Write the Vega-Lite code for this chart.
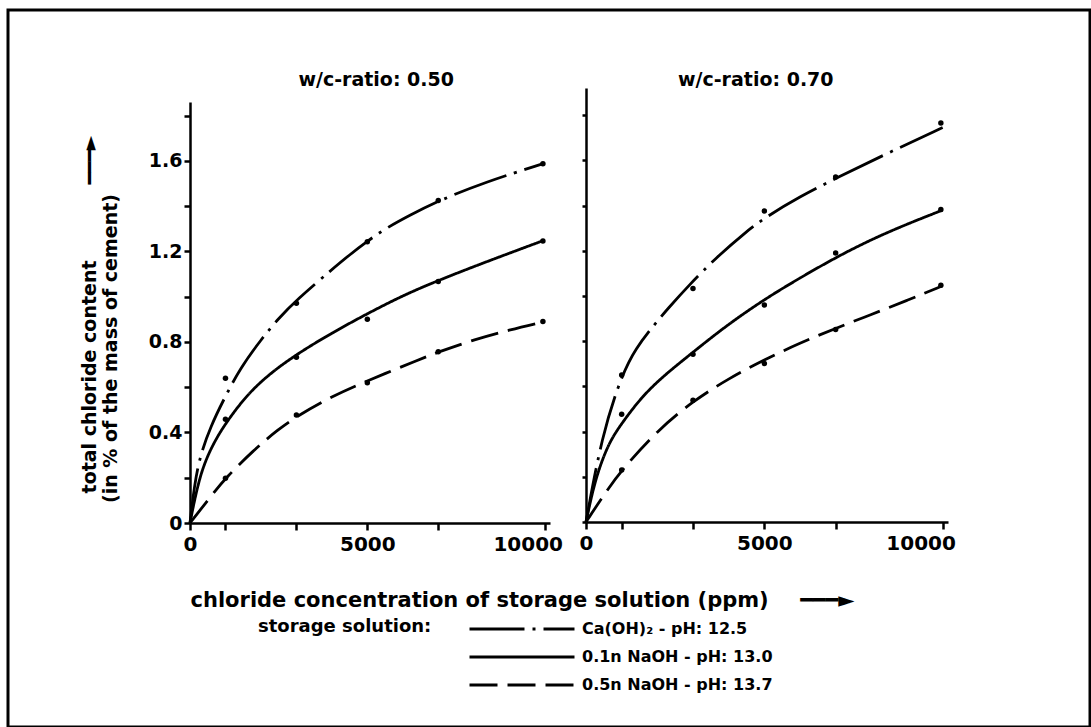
{
  "$schema": "https://vega.github.io/schema/vega-lite/v6.json",
  "width": 1091,
  "height": 727,
  "autosize": {"type": "fit", "contains": "padding"},
  "padding": {"left": 8, "top": 10, "right": 1, "bottom": 0},
  "background": "white",
  "config": {
    "view": {"stroke": "black", "strokeWidth": 3},
    "font": "DejaVu Sans",
    "axis": {
      "domainColor": "black", "domainWidth": 2.5, "ticks": true, "tickColor": "black", "tickWidth": 2.5,
      "labelColor": "black", "labelFont": "DejaVu Sans", "labelFontWeight": "bold", "labelFontSize": 19,
      "titleFont": "DejaVu Sans", "titleFontWeight": "bold", "titleFontSize": 19, "titleColor": "black",
      "grid": false, "labelFlush": false, "labelOverlap": false, "labelBound": false
    },
    "legend": {
      "orient": "none", "legendX": 250, "legendY": 608, "direction": "vertical",
      "titleOrient": "left", "titleFont": "DejaVu Sans", "titleFontWeight": "bold", "titleFontSize": 18,
      "titleColor": "black", "titlePadding": 36, "titleAnchor": "start", "titleBaseline": "top",
      "labelFont": "DejaVu Sans", "labelFontWeight": "bold", "labelFontSize": 16, "labelColor": "black", "labelLimit": 400,
      "symbolType": "stroke", "symbolSize": 11025, "symbolStrokeWidth": 3, "symbolStrokeColor": "black",
      "labelOffset": 6, "clipHeight": 22, "rowPadding": 6, "padding": 0
    }
  },
  "datasets": {
    "curves": [
      {"p": "0.50", "s": "ca", "x": 0, "y": 0},
      {"p": "0.50", "s": "ca", "x": 190, "y": 0.26},
      {"p": "0.50", "s": "ca", "x": 600, "y": 0.435},
      {"p": "0.50", "s": "ca", "x": 1000, "y": 0.56},
      {"p": "0.50", "s": "ca", "x": 1400, "y": 0.68},
      {"p": "0.50", "s": "ca", "x": 2000, "y": 0.81},
      {"p": "0.50", "s": "ca", "x": 2500, "y": 0.905},
      {"p": "0.50", "s": "ca", "x": 3000, "y": 0.985},
      {"p": "0.50", "s": "ca", "x": 4000, "y": 1.12},
      {"p": "0.50", "s": "ca", "x": 4500, "y": 1.185},
      {"p": "0.50", "s": "ca", "x": 5000, "y": 1.245},
      {"p": "0.50", "s": "ca", "x": 5500, "y": 1.3},
      {"p": "0.50", "s": "ca", "x": 6200, "y": 1.36},
      {"p": "0.50", "s": "ca", "x": 7000, "y": 1.423},
      {"p": "0.50", "s": "ca", "x": 8300, "y": 1.505},
      {"p": "0.50", "s": "ca", "x": 10000, "y": 1.59},
      {"p": "0.50", "s": "n1", "x": 0, "y": 0},
      {"p": "0.50", "s": "n1", "x": 280, "y": 0.22},
      {"p": "0.50", "s": "n1", "x": 650, "y": 0.35},
      {"p": "0.50", "s": "n1", "x": 1000, "y": 0.44},
      {"p": "0.50", "s": "n1", "x": 1600, "y": 0.566},
      {"p": "0.50", "s": "n1", "x": 2250, "y": 0.66},
      {"p": "0.50", "s": "n1", "x": 3000, "y": 0.745},
      {"p": "0.50", "s": "n1", "x": 4000, "y": 0.84},
      {"p": "0.50", "s": "n1", "x": 5000, "y": 0.925},
      {"p": "0.50", "s": "n1", "x": 6000, "y": 1.005},
      {"p": "0.50", "s": "n1", "x": 7000, "y": 1.072},
      {"p": "0.50", "s": "n1", "x": 8400, "y": 1.157},
      {"p": "0.50", "s": "n1", "x": 10000, "y": 1.25},
      {"p": "0.50", "s": "n5", "x": 0, "y": 0},
      {"p": "0.50", "s": "n5", "x": 650, "y": 0.13},
      {"p": "0.50", "s": "n5", "x": 1000, "y": 0.198},
      {"p": "0.50", "s": "n5", "x": 1800, "y": 0.323},
      {"p": "0.50", "s": "n5", "x": 2500, "y": 0.415},
      {"p": "0.50", "s": "n5", "x": 3000, "y": 0.47},
      {"p": "0.50", "s": "n5", "x": 4000, "y": 0.56},
      {"p": "0.50", "s": "n5", "x": 5000, "y": 0.628},
      {"p": "0.50", "s": "n5", "x": 6500, "y": 0.725},
      {"p": "0.50", "s": "n5", "x": 7000, "y": 0.755},
      {"p": "0.50", "s": "n5", "x": 8000, "y": 0.81},
      {"p": "0.50", "s": "n5", "x": 9000, "y": 0.853},
      {"p": "0.50", "s": "n5", "x": 10000, "y": 0.89},
      {"p": "0.70", "s": "ca", "x": 0, "y": 0},
      {"p": "0.70", "s": "ca", "x": 440, "y": 0.38},
      {"p": "0.70", "s": "ca", "x": 1000, "y": 0.65},
      {"p": "0.70", "s": "ca", "x": 1400, "y": 0.77},
      {"p": "0.70", "s": "ca", "x": 1900, "y": 0.87},
      {"p": "0.70", "s": "ca", "x": 2300, "y": 0.945},
      {"p": "0.70", "s": "ca", "x": 2900, "y": 1.05},
      {"p": "0.70", "s": "ca", "x": 3650, "y": 1.17},
      {"p": "0.70", "s": "ca", "x": 4500, "y": 1.285},
      {"p": "0.70", "s": "ca", "x": 5000, "y": 1.345},
      {"p": "0.70", "s": "ca", "x": 6000, "y": 1.44},
      {"p": "0.70", "s": "ca", "x": 7000, "y": 1.52},
      {"p": "0.70", "s": "ca", "x": 8500, "y": 1.635},
      {"p": "0.70", "s": "ca", "x": 10000, "y": 1.745},
      {"p": "0.70", "s": "n1", "x": 0, "y": 0},
      {"p": "0.70", "s": "n1", "x": 250, "y": 0.186},
      {"p": "0.70", "s": "n1", "x": 625, "y": 0.348},
      {"p": "0.70", "s": "n1", "x": 1000, "y": 0.436},
      {"p": "0.70", "s": "n1", "x": 1560, "y": 0.554},
      {"p": "0.70", "s": "n1", "x": 2200, "y": 0.65},
      {"p": "0.70", "s": "n1", "x": 2930, "y": 0.742},
      {"p": "0.70", "s": "n1", "x": 3900, "y": 0.865},
      {"p": "0.70", "s": "n1", "x": 5000, "y": 0.985},
      {"p": "0.70", "s": "n1", "x": 6000, "y": 1.08},
      {"p": "0.70", "s": "n1", "x": 7000, "y": 1.17},
      {"p": "0.70", "s": "n1", "x": 8000, "y": 1.25},
      {"p": "0.70", "s": "n1", "x": 9000, "y": 1.318},
      {"p": "0.70", "s": "n1", "x": 10000, "y": 1.38},
      {"p": "0.70", "s": "n5", "x": 0, "y": 0},
      {"p": "0.70", "s": "n5", "x": 530, "y": 0.127},
      {"p": "0.70", "s": "n5", "x": 1000, "y": 0.23},
      {"p": "0.70", "s": "n5", "x": 2000, "y": 0.405},
      {"p": "0.70", "s": "n5", "x": 3000, "y": 0.535},
      {"p": "0.70", "s": "n5", "x": 4000, "y": 0.635},
      {"p": "0.70", "s": "n5", "x": 5000, "y": 0.718},
      {"p": "0.70", "s": "n5", "x": 6000, "y": 0.792},
      {"p": "0.70", "s": "n5", "x": 7000, "y": 0.857},
      {"p": "0.70", "s": "n5", "x": 8000, "y": 0.918},
      {"p": "0.70", "s": "n5", "x": 9000, "y": 0.98},
      {"p": "0.70", "s": "n5", "x": 10000, "y": 1.045}
    ],
    "points": [
      {"p": "0.50", "s": "ca", "x": 1000, "y": 0.64},
      {"p": "0.50", "s": "ca", "x": 3000, "y": 0.971},
      {"p": "0.50", "s": "ca", "x": 5000, "y": 1.243},
      {"p": "0.50", "s": "ca", "x": 7000, "y": 1.425},
      {"p": "0.50", "s": "ca", "x": 9950, "y": 1.587},
      {"p": "0.50", "s": "n1", "x": 1000, "y": 0.458},
      {"p": "0.50", "s": "n1", "x": 3000, "y": 0.732},
      {"p": "0.50", "s": "n1", "x": 5000, "y": 0.9},
      {"p": "0.50", "s": "n1", "x": 7000, "y": 1.067},
      {"p": "0.50", "s": "n1", "x": 9950, "y": 1.246},
      {"p": "0.50", "s": "n5", "x": 1000, "y": 0.198},
      {"p": "0.50", "s": "n5", "x": 3000, "y": 0.477},
      {"p": "0.50", "s": "n5", "x": 5000, "y": 0.62},
      {"p": "0.50", "s": "n5", "x": 7000, "y": 0.757},
      {"p": "0.50", "s": "n5", "x": 9950, "y": 0.89},
      {"p": "0.70", "s": "ca", "x": 1000, "y": 0.65},
      {"p": "0.70", "s": "ca", "x": 3000, "y": 1.033},
      {"p": "0.70", "s": "ca", "x": 5000, "y": 1.376},
      {"p": "0.70", "s": "ca", "x": 7000, "y": 1.526},
      {"p": "0.70", "s": "ca", "x": 9950, "y": 1.765},
      {"p": "0.70", "s": "n1", "x": 1000, "y": 0.477},
      {"p": "0.70", "s": "n1", "x": 3000, "y": 0.742},
      {"p": "0.70", "s": "n1", "x": 5000, "y": 0.96},
      {"p": "0.70", "s": "n1", "x": 7000, "y": 1.19},
      {"p": "0.70", "s": "n1", "x": 9950, "y": 1.382},
      {"p": "0.70", "s": "n5", "x": 1000, "y": 0.23},
      {"p": "0.70", "s": "n5", "x": 3000, "y": 0.539},
      {"p": "0.70", "s": "n5", "x": 5000, "y": 0.701},
      {"p": "0.70", "s": "n5", "x": 7000, "y": 0.852},
      {"p": "0.70", "s": "n5", "x": 9950, "y": 1.047}
    ]
  },
  "layer": [
    {
      "data": {"name": "curves"},
      "transform": [{"filter": "datum.p == '0.50'"}],
      "mark": {"type": "line", "interpolate": "basis", "strokeWidth": 2.8, "color": "black"},
      "encoding": {
        "x": {
          "field": "x", "type": "quantitative",
          "scale": {"domain": [0, 10150], "range": [182, 542], "nice": false, "zero": false},
          "axis": {
            "orient": "bottom", "offset": -204, "values": [0, 1000, 3000, 5000, 7000, 10000], "format": "d",
            "labelExpr": "datum.value % 5000 == 0 ? datum.label : ''",
            "labelOffset": {"condition": {"test": "datum.value == 10000", "value": -17}, "value": 0},
            "tickSize": 7, "labelPadding": 4, "labelFontSize": 20,
            "title": "chloride concentration of storage solution (ppm)\u2003\u2002━━━►",
            "titleX": 182, "titleY": 77, "titleAlign": "left", "titleBaseline": "middle", "titleFontSize": 21
          }
        },
        "y": {
          "field": "y", "type": "quantitative",
          "scale": {"domain": [0, 1.86], "range": [513, 92], "nice": false, "zero": false},
          "axis": {
            "orient": "left", "offset": -182, "values": [0, 0.2, 0.4, 0.6, 0.8, 1, 1.2, 1.4, 1.6, 1.8],
            "labelExpr": "round(datum.value*10) % 4 == 0 ? (datum.value == 0 ? '0' : format(datum.value, '.1f')) : ''",
            "tickSize": 6, "labelPadding": 2,
            "title": "total chloride content\u2003\u2003\u2003\u2003━━━►",
            "titleAngle": 270, "titleX": -101, "titleY": 304, "titleAlign": "center", "titleBaseline": "middle"
          }
        },
        "strokeDash": {
          "field": "s", "type": "nominal",
          "scale": {"domain": ["ca", "n1", "n5"], "range": [[55, 8, 3, 8], [1, 0], [28, 10]]},
          "legend": {
            "title": "storage solution:",
            "labelExpr": "datum.value == 'ca' ? 'Ca(OH)₂ - pH: 12.5' : datum.value == 'n1' ? '0.1n NaOH - pH: 13.0' : '0.5n NaOH - pH: 13.7'"
          }
        }
      }
    },
    {
      "data": {"name": "points"},
      "transform": [{"filter": "datum.p == '0.50'"}],
      "mark": {"type": "circle", "size": 30, "color": "black", "opacity": 1},
      "encoding": {
        "x": {"field": "x", "type": "quantitative", "scale": {"domain": [0, 10150], "range": [182, 542], "nice": false, "zero": false}, "axis": null},
        "y": {"field": "y", "type": "quantitative", "scale": {"domain": [0, 1.86], "range": [513, 92], "nice": false, "zero": false}, "axis": null}
      }
    },
    {
      "data": {"values": [{"t": "w/c-ratio: 0.50"}]},
      "mark": {"type": "text", "fontSize": 19, "fontWeight": "bold", "font": "DejaVu Sans", "color": "black", "align": "center", "baseline": "middle"},
      "encoding": {
        "text": {"field": "t", "type": "nominal"},
        "x": {"datum": 5250, "type": "quantitative", "scale": {"domain": [0, 10150], "range": [182, 542], "nice": false, "zero": false}, "axis": null},
        "y": {"datum": 1.957, "type": "quantitative", "scale": {"domain": [0, 1.86], "range": [513, 92], "nice": false, "zero": false}, "axis": null}
      }
    },
    {
      "data": {"name": "curves"},
      "transform": [{"filter": "datum.p == '0.70'"}],
      "mark": {"type": "line", "interpolate": "basis", "strokeWidth": 2.8, "color": "black"},
      "encoding": {
        "x": {
          "field": "x", "type": "quantitative",
          "scale": {"domain": [0, 10150], "range": [578, 940], "nice": false, "zero": false},
          "axis": {
            "orient": "bottom", "offset": -205, "values": [0, 1000, 3000, 5000, 7000, 10000], "format": "d",
            "labelExpr": "datum.value % 5000 == 0 ? datum.label : ''",
            "labelOffset": {"condition": {"test": "datum.value == 10000", "value": -22}, "value": 0},
            "tickSize": 7, "labelPadding": 4, "labelFontSize": 20, "title": null
          }
        },
        "y": {
          "field": "y", "type": "quantitative",
          "scale": {"domain": [0, 1.92], "range": [512, 78], "nice": false, "zero": false},
          "axis": {
            "orient": "left", "offset": -578, "values": [0, 0.2, 0.4, 0.6, 0.8, 1, 1.2, 1.4, 1.6, 1.8],
            "labels": false, "tickSize": 4,
            "title": "(in % of the mass of cement)",
            "titleAngle": 270, "titleX": -476, "titleY": 338, "titleAlign": "center", "titleBaseline": "middle"
          }
        },
        "strokeDash": {
          "field": "s", "type": "nominal",
          "scale": {"domain": ["ca", "n1", "n5"], "range": [[55, 8, 3, 8], [1, 0], [28, 10]]},
          "legend": {
            "title": "storage solution:",
            "labelExpr": "datum.value == 'ca' ? 'Ca(OH)₂ - pH: 12.5' : datum.value == 'n1' ? '0.1n NaOH - pH: 13.0' : '0.5n NaOH - pH: 13.7'"
          }
        }
      }
    },
    {
      "data": {"name": "points"},
      "transform": [{"filter": "datum.p == '0.70'"}],
      "mark": {"type": "circle", "size": 30, "color": "black", "opacity": 1},
      "encoding": {
        "x": {"field": "x", "type": "quantitative", "scale": {"domain": [0, 10150], "range": [578, 940], "nice": false, "zero": false}, "axis": null},
        "y": {"field": "y", "type": "quantitative", "scale": {"domain": [0, 1.92], "range": [512, 78], "nice": false, "zero": false}, "axis": null}
      }
    },
    {
      "data": {"values": [{"t": "w/c-ratio: 0.70"}]},
      "mark": {"type": "text", "fontSize": 19, "fontWeight": "bold", "font": "DejaVu Sans", "color": "black", "align": "center", "baseline": "middle"},
      "encoding": {
        "text": {"field": "t", "type": "nominal"},
        "x": {"datum": 4760, "type": "quantitative", "scale": {"domain": [0, 10150], "range": [578, 940], "nice": false, "zero": false}, "axis": null},
        "y": {"datum": 1.955, "type": "quantitative", "scale": {"domain": [0, 1.92], "range": [512, 78], "nice": false, "zero": false}, "axis": null}
      }
    }
  ],
  "resolve": {
    "scale": {"x": "independent", "y": "independent"},
    "axis": {"x": "independent", "y": "independent"}
  }
}
